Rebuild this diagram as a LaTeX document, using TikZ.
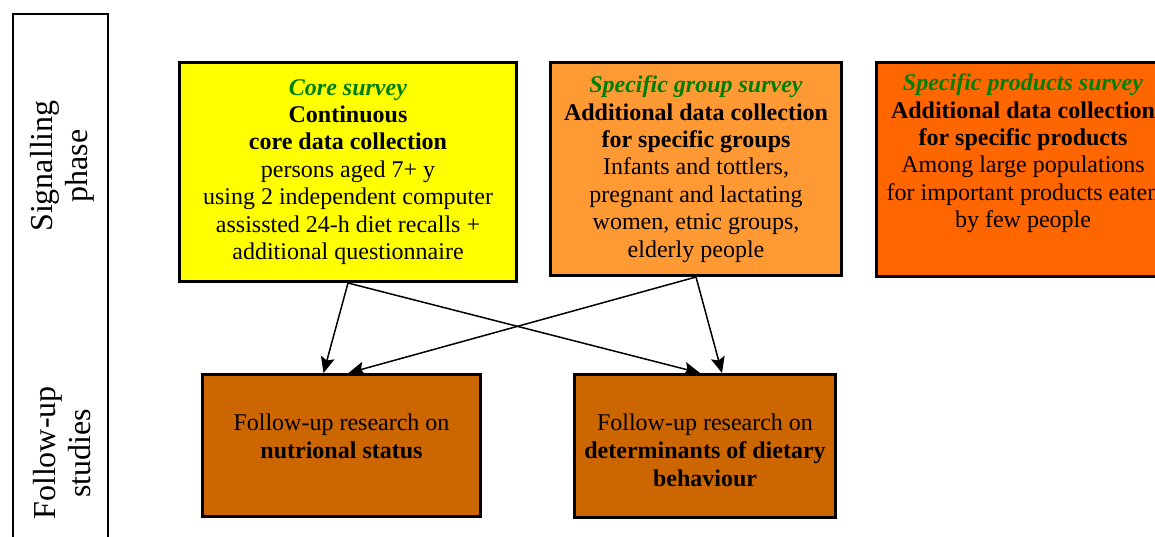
\documentclass[tikz,border=0pt]{standalone}
\usepackage{fontspec}
\setmainfont{Liberation Serif}[
  BoldFont={Liberation Serif Bold},
  ItalicFont={Liberation Serif Italic},
  BoldItalicFont={Liberation Serif Bold Italic}]
\usetikzlibrary{arrows.meta}
\definecolor{coreyellow}{HTML}{FFFF00}
\definecolor{grouporange}{HTML}{FF9933}
\definecolor{prodorange}{HTML}{FF6600}
\definecolor{followbrown}{HTML}{CC6600}
\definecolor{surveygreen}{HTML}{008000}
\tikzset{
  phasebox/.style={draw, line width=3pt, align=center, inner sep=0pt,
    font=\fontsize{24}{27.4}\selectfont},
  followbox/.style={phasebox, fill=followbrown, font=\fontsize{24}{28}\selectfont},
  phaselabel/.style={rotate=90, align=center, font=\fontsize{32}{35}\selectfont},
  flow/.style={line width=1.5pt, -{Stealth[length=16pt,width=14pt,inset=3pt]}},
}
\newcommand{\surveyname}[1]{\textcolor{surveygreen}{\textbf{\textit{#1}}}}

\begin{document}
\begin{tikzpicture}[x=1pt,y=-1pt]

    \useasboundingbox[fill=white] (0,0) rectangle (1155,536);

    % phase column
    \draw[line width=1.5pt] (13,14) rectangle (108,560);
    \node[phaselabel] (signal) at (62,166) {Signalling\\ phase};
    \node[phaselabel] (follow) at (62,453) {Follow-up\\ studies};

    % surveys
    \node[phasebox, fill=coreyellow, minimum width=337pt, minimum height=219pt] (core) at (348,172)
      {\surveyname{Core survey}\\ \textbf{Continuous}\\ \textbf{core data collection}\\
       persons aged 7+ y\\ using 2 independent computer\\ assissted 24-h diet recalls +\\
       additional questionnaire};
    \node[phasebox, fill=grouporange, minimum width=291pt, minimum height=213pt] (group) at (696,169)
      {\surveyname{Specific group survey}\\ \textbf{Additional data collection}\\
       \textbf{for specific groups}\\ Infants and tottlers,\\ pregnant and lactating\\
       women, etnic groups,\\ elderly people};
    \node[phasebox, fill=prodorange, minimum width=293pt, minimum height=214pt] (prod) at (1023,169.5)
      {\surveyname{Specific products survey}\\ \textbf{Additional data collection}\\
       \textbf{for specific products}\\ Among large populations\\
       for important products eaten\\ by few people\\ \rule[-10pt]{0pt}{0pt}};

    % follow-up studies
    \node[followbox, minimum width=278pt, minimum height=142pt] (nutri) at (341.5,445.5)
      {\rule{0pt}{25pt}Follow-up research on\\ \textbf{nutrional status}\\ \mbox{}};
    \node[followbox, minimum width=261pt, minimum height=143pt] (deter) at (705,446)
      {\rule{0pt}{25pt}Follow-up research on\\ \textbf{determinants of dietary}\\ \textbf{behaviour}};

    \draw[flow] (core.south) -- ([xshift=-18pt]nutri.north);
    \draw[flow] (core.south) -- ([xshift=-5pt]deter.north);
    \draw[flow] (group.south) -- ([xshift=7pt]nutri.north);
    \draw[flow] (group.south) -- ([xshift=17pt]deter.north);

\end{tikzpicture}
\end{document}
